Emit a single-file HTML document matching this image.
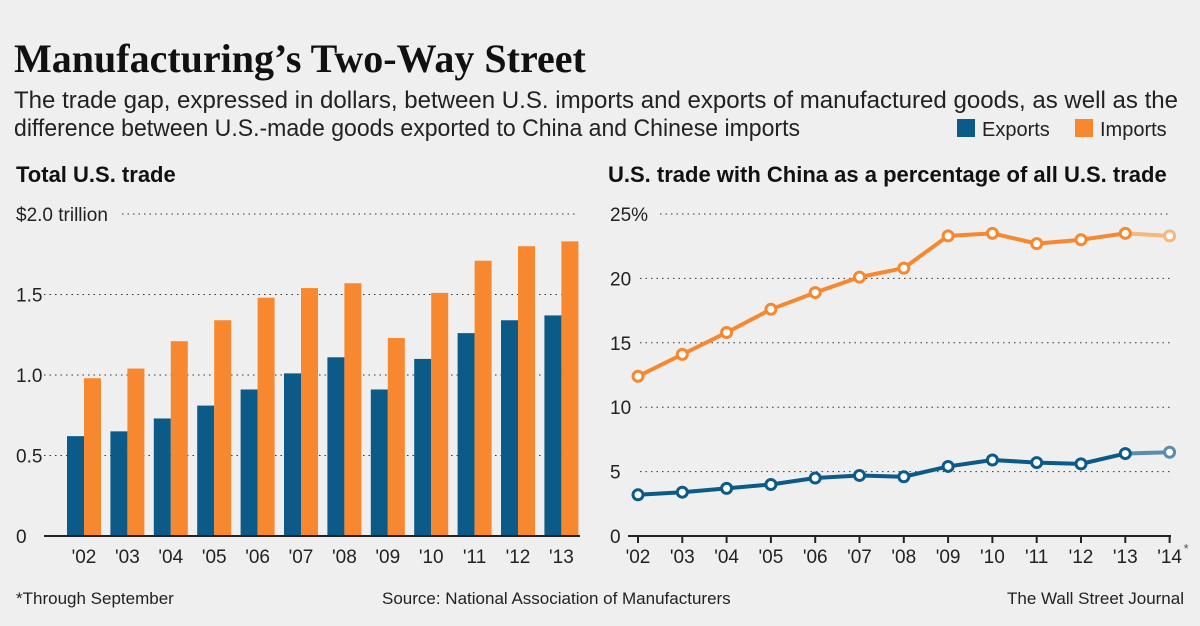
<!DOCTYPE html>
<html><head><meta charset="utf-8"><style>
body{margin:0;background:#efefef;}
svg{display:block;font-family:"Liberation Sans",sans-serif;}
</style></head><body>
<svg id="s" width="1200" height="626" xmlns="http://www.w3.org/2000/svg">
<rect width="1200" height="626" fill="#efefef"/>
<text x="14" y="72" font-family="Liberation Serif,serif" font-weight="bold" font-size="40" fill="#111">Manufacturing’s Two-Way Street</text>
<text x="14" y="108" font-size="24" fill="#222" textLength="1164" lengthAdjust="spacingAndGlyphs">The trade gap, expressed in dollars, between U.S. imports and exports of manufactured goods, as well as the</text>
<text x="14" y="136" font-size="24" fill="#222" textLength="786" lengthAdjust="spacingAndGlyphs">difference between U.S.-made goods exported to China and Chinese imports</text>
<g>
<rect x="957" y="119" width="18" height="18" fill="#0b5a87"/>
<text x="982" y="136" font-size="20" fill="#222">Exports</text>
<rect x="1075" y="119" width="18" height="18" fill="#f7882f"/>
<text x="1100" y="136" font-size="20" fill="#222">Imports</text>
</g>
<text x="16" y="182" font-size="22" font-weight="bold" fill="#111">Total U.S. trade</text>
<text x="608" y="182" font-size="22" font-weight="bold" fill="#111">U.S. trade with China as a percentage of all U.S. trade</text>
<g id="left"></g><g id="right"></g>
<text x="16" y="604" font-size="17" fill="#222">*Through September</text>
<text x="382" y="604" font-size="17" fill="#222">Source: National Association of Manufacturers</text>
<text x="1184" y="604" font-size="17" fill="#222" text-anchor="end">The Wall Street Journal</text>
</svg>
<script>
const barYears=["'02","'03","'04","'05","'06","'07","'08","'09","'10","'11","'12","'13"];
const barExports=[0.62,0.65,0.73,0.81,0.91,1.01,1.11,0.91,1.10,1.26,1.34,1.37];
const barImports=[0.98,1.04,1.21,1.34,1.48,1.54,1.57,1.23,1.51,1.71,1.80,1.83];
const barTicks=[0,0.5,1.0,1.5,2.0];
const barTickLabels=["0","0.5","1.0","1.5","$2.0 trillion"];
const lineYears=["'02","'03","'04","'05","'06","'07","'08","'09","'10","'11","'12","'13","'14*"];
const lineImports=[12.4,14.1,15.8,17.6,18.9,20.1,20.8,23.3,23.5,22.7,23.0,23.5,23.3];
const lineExports=[3.2,3.4,3.7,4.0,4.5,4.7,4.6,5.4,5.9,5.7,5.6,6.4,6.5];
const lineTicks=[0,5,10,15,20,25];
const lineTickLabels=["0","5","10","15","20","25%"];
const NS="http://www.w3.org/2000/svg";
function mk(p,t,a,txt){const e=document.createElementNS(NS,t);for(const k in a)e.setAttribute(k,a[k]);if(txt!=null)e.textContent=txt;p.appendChild(e);return e;}
const Y0=536,Y1=214;
const L=document.getElementById('left');
const ly=v=>Y0-(Y0-Y1)*v/2.0;
barTicks.forEach((t,i)=>{
 if(t>0){const g=mk(L,'line',{x1:i==4?122:44,x2:578,y1:ly(t),y2:ly(t),stroke:'#333','stroke-dasharray':'1.5 4'});
 }
 const tx=mk(L,'text',{x:16,y:ly(t)+7,'font-size':19,fill:'#222'},barTickLabels[i]);
 
});
const bx=i=>84+i*43.4;
barYears.forEach((y,i)=>{
 const e=mk(L,'rect',{x:bx(i)-17,y:ly(barExports[i]),width:17,height:Y0-ly(barExports[i]),fill:'#0b5a87'});
 
 const m=mk(L,'rect',{x:bx(i),y:ly(barImports[i]),width:17,height:Y0-ly(barImports[i]),fill:'#f7882f'});
 
 const t=mk(L,'text',{x:bx(i),y:563,'font-size':19,fill:'#222','text-anchor':'middle'},y);
 
});
const la=mk(L,'line',{x1:44,x2:580,y1:Y0,y2:Y0,stroke:'#222','stroke-width':2});

const R=document.getElementById('right');
const ry=v=>Y0-(Y0-Y1)*v/25;
const rx=i=>638+i*44.3;
lineTicks.forEach((t,i)=>{
 if(t>0){const g=mk(R,'line',{x1:i==5?660:640,x2:1170,y1:ry(t),y2:ry(t),stroke:'#333','stroke-dasharray':'1.5 4'});
 }
 const tx=mk(R,'text',{x:610,y:ry(t)+7,'font-size':19,fill:'#222'},lineTickLabels[i]);
 
});
const ra=mk(R,'line',{x1:628,x2:1171,y1:Y0,y2:Y0,stroke:'#222','stroke-width':2});

lineYears.forEach((y,i)=>{
 const k=mk(R,'line',{x1:rx(i),x2:rx(i),y1:Y0,y2:Y0+7,stroke:'#222','stroke-width':2});
 
 const t=mk(R,'text',{x:rx(i),y:563,'font-size':19,fill:'#222','text-anchor':'middle'},y.replace('*',''));
 
});
const st=mk(R,'text',{x:rx(12)+14,y:553,'font-size':13,fill:'#555'},'*');

function series(vals,col,light,name){
 const n=vals.length;
 const pts=vals.slice(0,n-1).map((v,i)=>rx(i)+','+ry(v)).join(' ');
 const p=mk(R,'polyline',{points:pts,fill:'none',stroke:col,'stroke-width':4,'stroke-linejoin':'round'});
 
 const s=mk(R,'line',{x1:rx(n-2),y1:ry(vals[n-2]),x2:rx(n-1),y2:ry(vals[n-1]),stroke:light,'stroke-width':4});
 
 vals.forEach((v,i)=>{
  const c=mk(R,'circle',{cx:rx(i),cy:ry(v),r:5,fill:'#fff',stroke:i==n-1?light:col,'stroke-width':3});
  
 });
}
series(lineImports,'#f7882f','#f9b77a','imports');
series(lineExports,'#0b5a87','#5a8cad','exports');
</script>
</body></html>
